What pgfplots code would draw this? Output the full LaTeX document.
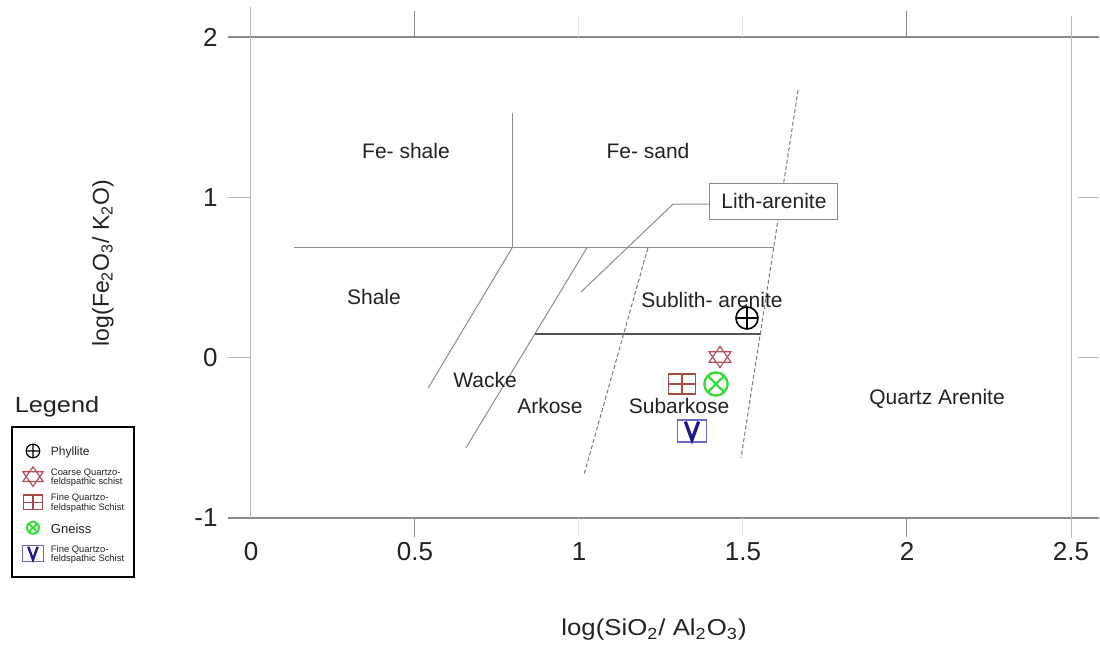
\documentclass[border=0pt]{standalone}
\usepackage{fontspec}
\setmainfont{Liberation Sans}
\usepackage{graphicx}
\usepackage{pgfplots}
\pgfplotsset{compat=1.18}
\usetikzlibrary{plotmarks}

\definecolor{boxgray}{HTML}{8A8A8A}
\definecolor{lightgray2}{HTML}{B8B8B8}
\definecolor{faint}{HTML}{E2E2E2}
\definecolor{regline}{HTML}{8C8C8C}
\definecolor{darkline}{HTML}{555555}
\definecolor{dashgray}{HTML}{7A7A7A}
\definecolor{starred}{HTML}{B5525A}
\definecolor{gridred}{HTML}{A84848}
\definecolor{gneissgreen}{HTML}{3ADB3A}
\definecolor{vframe}{HTML}{6A6AC8}
\definecolor{vnavy}{HTML}{1A1A8C}
\definecolor{txt}{HTML}{222222}

\pgfdeclareplotmark{hexagram}{%
 \pgfpathmoveto{\pgfpoint{0pt}{\pgfplotmarksize}}%
 \pgfpathlineto{\pgfpoint{-1.04\pgfplotmarksize}{-0.5\pgfplotmarksize}}%
 \pgfpathlineto{\pgfpoint{1.04\pgfplotmarksize}{-0.5\pgfplotmarksize}}%
 \pgfpathclose
 \pgfpathmoveto{\pgfpoint{0pt}{-\pgfplotmarksize}}%
 \pgfpathlineto{\pgfpoint{1.04\pgfplotmarksize}{0.5\pgfplotmarksize}}%
 \pgfpathlineto{\pgfpoint{-1.04\pgfplotmarksize}{0.5\pgfplotmarksize}}%
 \pgfpathclose
 \pgfusepathqstroke}
\pgfdeclareplotmark{gridsq}{%
 \pgfpathrectangle{\pgfpoint{-1.35\pgfplotmarksize}{-\pgfplotmarksize}}{\pgfpoint{2.7\pgfplotmarksize}{2\pgfplotmarksize}}%
 \pgfpathmoveto{\pgfpoint{-1.35\pgfplotmarksize}{0pt}}\pgfpathlineto{\pgfpoint{1.35\pgfplotmarksize}{0pt}}%
 \pgfpathmoveto{\pgfpoint{0pt}{-\pgfplotmarksize}}\pgfpathlineto{\pgfpoint{0pt}{\pgfplotmarksize}}%
 \pgfusepathqstroke}
\pgfdeclareplotmark{vbox}{%
 \pgfsetlinewidth{0.6pt}\pgfsetstrokecolor{vframe}%
 \pgfpathrectangle{\pgfpoint{-1.32\pgfplotmarksize}{-\pgfplotmarksize}}{\pgfpoint{2.64\pgfplotmarksize}{2\pgfplotmarksize}}%
 \pgfusepathqstroke
 \pgfsetlinewidth{0.3\pgfplotmarksize}\pgfsetstrokecolor{vnavy}%
 \pgfpathmoveto{\pgfpoint{-0.6\pgfplotmarksize}{0.85\pgfplotmarksize}}%
 \pgfpathlineto{\pgfpoint{0pt}{-0.8\pgfplotmarksize}}%
 \pgfpathlineto{\pgfpoint{0.6\pgfplotmarksize}{0.85\pgfplotmarksize}}%
 \pgfusepathqstroke}

\newcommand{\regfont}{\fontsize{10.5}{12}\selectfont}

\begin{document}
\begin{tikzpicture}
\begin{axis}[
  x=164pt, y=80.15pt,
  xmin=0, xmax=2.5, ymin=-1, ymax=2,
  axis x line=bottom, axis y line=left,
  axis line style={draw=none},
  major tick length=0pt,
  xtick={0,0.5,1,1.5,2,2.5}, xticklabels={0,0.5,1,1.5,2,2.5},
  ytick={-1,0,1,2}, yticklabels={-1,0,1,2},
  tick label style={font=\fontsize{13}{15}\selectfont, text=txt, inner sep=0pt},
  xticklabel style={anchor=north}, xticklabel shift=12pt,
  yticklabel style={anchor=east}, yticklabel shift=16.5pt,
  clip=false,
  xlabel={\scalebox{1.12}[1]{log(SiO\textsubscript{2}/ Al\textsubscript{2}O\textsubscript{3})}},
  ylabel={log(Fe\textsubscript{2}O\textsubscript{3}/ K\textsubscript{2}O)},
  label style={font=\fontsize{11.5}{13}\selectfont, text=txt},
  xlabel style={at={(rel axis cs:0.4915,-0.2331)}, anchor=center},
  ylabel style={at={(rel axis cs:-0.1805,0.5300)}, anchor=center},
  legend style={at={(axis cs:-0.7317,-0.4267)}, anchor=north west, draw=black, line width=1pt,
    fill=white, inner xsep=4.5pt, inner ysep=7pt, row sep=2.8pt, column sep=3pt,
    nodes={inner sep=0pt, anchor=west, text=txt}},
  legend cell align=left,
  legend image code/.code={\path[draw=none, fill=none] (-6pt,-5pt) rectangle (6pt,5pt); \draw[#1] plot coordinates {(0pt,0pt)};},
]
% frame lines
\addplot[forget plot, draw=boxgray, line width=0.65pt] coordinates {(-0.07,2) (2.585,2)};
\addplot[forget plot, draw=boxgray, line width=0.65pt] coordinates {(-0.07,-1) (2.585,-1)};
\addplot[forget plot, draw=lightgray2, line width=0.5pt] coordinates {(0,-1) (0,2.19)};
\addplot[forget plot, draw=lightgray2, line width=0.5pt] coordinates {(2.5,-1.125) (2.5,2.13)};
\addplot[forget plot, draw=lightgray2, line width=0.5pt] coordinates {(-0.07,1) (0,1)};
\addplot[forget plot, draw=lightgray2, line width=0.5pt] coordinates {(-0.07,0) (0,0)};
\addplot[forget plot, draw=lightgray2, line width=0.5pt] coordinates {(2.52,1) (2.585,1)};
\addplot[forget plot, draw=lightgray2, line width=0.5pt] coordinates {(2.52,0) (2.585,0)};
\addplot[forget plot, draw=boxgray, line width=0.5pt] coordinates {(0.5,2) (0.5,2.16)};
\addplot[forget plot, draw=boxgray, line width=0.5pt] coordinates {(2,2) (2,2.16)};
\addplot[forget plot, draw=faint, line width=0.5pt] coordinates {(1,2) (1,2.14)};
\addplot[forget plot, draw=faint, line width=0.5pt] coordinates {(1.5,2) (1.5,2.14)};
\addplot[forget plot, draw=boxgray, line width=0.5pt] coordinates {(0.5,-1) (0.5,-1.12)};
\addplot[forget plot, draw=boxgray, line width=0.5pt] coordinates {(2,-1) (2,-1.12)};
\addplot[forget plot, draw=faint, line width=0.5pt] coordinates {(1,-1) (1,-1.12)};
\addplot[forget plot, draw=faint, line width=0.5pt] coordinates {(1.5,-1) (1.5,-1.12)};
% field boundaries
\addplot[forget plot, draw=regline, line width=0.5pt] coordinates {(0.131,0.684) (1.595,0.684)};
\addplot[forget plot, draw=regline, line width=0.5pt] coordinates {(0.796,1.526) (0.796,0.684)};
\addplot[forget plot, draw=regline, line width=0.5pt] coordinates {(0.796,0.684) (0.540,-0.190)};
\addplot[forget plot, draw=regline, line width=0.5pt] coordinates {(1.024,0.684) (0.655,-0.564)};
\addplot[forget plot, draw=regline, line width=0.5pt] coordinates {(1.006,0.409) (1.287,0.958) (1.405,0.958)};
\addplot[forget plot, draw=darkline, line width=0.6pt] coordinates {(0.865,0.147) (1.555,0.147)};
\addplot[forget plot, draw=dashgray, line width=0.5pt, dash pattern=on 2pt off 1.2pt] coordinates {(1.210,0.684) (1.015,-0.732)};
\addplot[forget plot, draw=dashgray, line width=0.5pt, dash pattern=on 2pt off 1.2pt] coordinates {(1.668,1.669) (1.494,-0.626)};
% labels
\node[font=\regfont, text=txt] at (axis cs:0.4726,1.2888) {Fe- shale};
\node[font=\regfont, text=txt] at (axis cs:1.2104,1.2888) {Fe- sand};
\node[font=\regfont, text=txt] at (axis cs:0.375,0.378) {Shale};
\node[font=\regfont, text=txt] at (axis cs:1.4055,0.3594) {Sublith- arenite};
\node[font=\regfont, text=txt] at (axis cs:0.7134,-0.1397) {Wacke};
\node[font=\regfont, text=txt] at (axis cs:0.9116,-0.302) {Arkose};
\node[font=\regfont, text=txt] at (axis cs:1.305,-0.302) {Subarkose};
\node[font=\regfont, text=txt] at (axis cs:2.0915,-0.2583) {Quartz Arenite};
\node[font=\regfont, text=txt, draw=boxgray, line width=0.5pt, fill=white, minimum width=64pt, minimum height=18pt, inner sep=0pt] at (axis cs:1.5945,0.9769) {Lith-arenite};
\node[font=\fontsize{11}{13}\selectfont, text=txt] at (axis cs:-0.5915,-0.308) {\scalebox{1.15}[1]{Legend}};
% samples
\addplot[only marks, mark=oplus, mark size=5.5pt, draw=black, line width=0.8pt,
  legend image post style={mark size=3.4pt, line width=0.6pt}] coordinates {(1.5122,0.2470)};
\addlegendentry{\parbox[c][10pt][c]{37pt}{\fontsize{6}{6}\selectfont Phyllite}}
\addplot[only marks, mark=hexagram, mark size=5.3pt, draw=starred, line width=0.6pt,
  legend image post style={mark size=4.9pt}] coordinates {(1.4299,0.0037)};
\addlegendentry{\parbox[c][10pt][c]{37pt}{\fontsize{4.7}{4.8}\selectfont Coarse Quartzo-\\feldspathic schist}}
\addplot[only marks, mark=gridsq, mark size=5pt, draw=gridred, line width=0.6pt,
  legend image post style={mark size=3.6pt}] coordinates {(1.3140,-0.1647)};
\addlegendentry{\parbox[c][10pt][c]{37pt}{\fontsize{4.7}{4.8}\selectfont Fine Quartzo-\\feldspathic Schist}}
\addplot[only marks, mark=otimes, mark size=5.8pt, draw=gneissgreen, line width=1.2pt,
  legend image post style={mark size=3pt, line width=1pt}] coordinates {(1.4177,-0.1647)};
\addlegendentry{\parbox[c][10pt][c]{37pt}{\fontsize{6.5}{6.5}\selectfont Gneiss}}
\addplot[only marks, mark=vbox, mark size=5.5pt, draw=vframe,
  legend image post style={mark size=3.9pt}] coordinates {(1.3445,-0.4579)};
\addlegendentry{\parbox[c][10pt][c]{37pt}{\fontsize{4.7}{4.8}\selectfont Fine Quartzo-\\feldspathic Schist}}
\coordinate (imgTL) at (axis cs:-0.7652,2.2308);
\coordinate (imgBR) at (axis cs:2.5884,-1.8116);
\end{axis}
\pgfresetboundingbox
\path[use as bounding box] (imgTL) rectangle (imgBR);
\end{tikzpicture}
\end{document}
